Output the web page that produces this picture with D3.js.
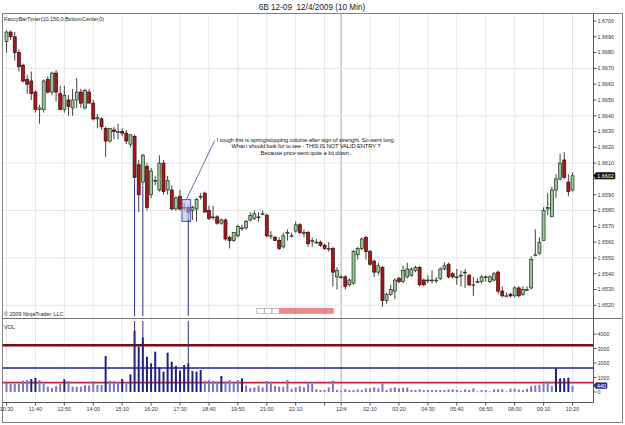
<!DOCTYPE html>
<html><head><meta charset="utf-8">
<script src="https://cdn.jsdelivr.net/npm/d3@7"></script>
<style>
body{margin:0;background:#fff}
svg{display:block}
text{font-family:"Liberation Sans",Arial,Helvetica,sans-serif}
</style>
</head><body>
<svg id="c" width="625" height="425"></svg>
<script>
// ---------------- DATA ----------------
const title = "6B 12-09\u00A0 12/4/2009 (10 Min)";
const openP = [1.6687,1.6693,1.6690,1.6680,1.6672,1.6663,1.6662,1.6655,1.6644,1.6644,1.6663,1.6655,1.6667,1.6654,1.6644,1.6650,1.6645,1.6650,1.6655,1.6645,1.6655,1.6648,1.6638,1.6638,1.6632,1.6624,1.6631,1.6630,1.6630,1.6629,1.6622,1.6627,1.6609,1.6598,1.6608,1.6590,1.6599,1.6593,1.6610,1.6593,1.6593,1.6581,1.6589,1.6582,1.6582,1.6580,1.6581,1.6589,1.6591,1.6580,1.6576,1.6576,1.6572,1.6574,1.6563,1.6561,1.6564,1.6569,1.6569,1.6574,1.6575,1.6576,1.6578,1.6577,1.6564,1.6563,1.6561,1.6557,1.6566,1.6564,1.6567,1.6571,1.6566,1.6566,1.6561,1.6560,1.6560,1.6558,1.6556,1.6556,1.6538,1.6538,1.6538,1.6533,1.6534,1.6552,1.6556,1.6563,1.6554,1.6548,1.6541,1.6544,1.6523,1.6527,1.6529,1.6537,1.6535,1.6538,1.6539,1.6542,1.6544,1.6536,1.6536,1.6536,1.6536,1.6537,1.6543,1.6546,1.6540,1.6538,1.6539,1.6541,1.6539,1.6533,1.6535,1.6535,1.6538,1.6535,1.6536,1.6541,1.6529,1.6526,1.6527,1.6526,1.6531,1.6527,1.6530,1.6531,1.6552,1.6553,1.6561,1.6581,1.6576,1.6593,1.6600,1.6612,1.6598,1.6593];
const highP = [1.6694,1.6694,1.6693,1.6682,1.6673,1.6666,1.6668,1.6656,1.6647,1.6663,1.6665,1.6668,1.6669,1.6659,1.6659,1.6653,1.6657,1.6664,1.6657,1.6657,1.6657,1.6650,1.6641,1.6639,1.6633,1.6632,1.6633,1.6635,1.6632,1.6631,1.6628,1.6628,1.6612,1.6616,1.6610,1.6607,1.6602,1.6615,1.6612,1.6602,1.6596,1.6589,1.6593,1.6585,1.6583,1.6583,1.6588,1.6591,1.6592,1.6583,1.6583,1.6577,1.6575,1.6575,1.6564,1.6566,1.6571,1.6571,1.6574,1.6579,1.6580,1.6579,1.6580,1.6578,1.6567,1.6564,1.6563,1.6566,1.6568,1.6566,1.6573,1.6572,1.6568,1.6567,1.6563,1.6562,1.6561,1.6559,1.6560,1.6557,1.6544,1.6539,1.6539,1.6537,1.6555,1.6557,1.6563,1.6564,1.6555,1.6549,1.6547,1.6545,1.6528,1.6533,1.6537,1.6538,1.6545,1.6547,1.6544,1.6545,1.6545,1.6537,1.6539,1.6542,1.6538,1.6544,1.6547,1.6547,1.6541,1.6543,1.6542,1.6543,1.6540,1.6538,1.6537,1.6539,1.6539,1.6539,1.6541,1.6542,1.6532,1.6528,1.6528,1.6532,1.6532,1.6532,1.6532,1.6551,1.6568,1.6563,1.6582,1.6591,1.6595,1.6603,1.6616,1.6617,1.6603,1.6604];
const lowP = [1.6680,1.6688,1.6675,1.6668,1.6661,1.6654,1.6650,1.6642,1.6635,1.6642,1.6654,1.6653,1.6649,1.6644,1.6642,1.6640,1.6640,1.6645,1.6645,1.6644,1.6648,1.6637,1.6632,1.6631,1.6614,1.6623,1.6625,1.6625,1.6627,1.6622,1.6620,1.6600,1.6579,1.6596,1.6580,1.6588,1.6596,1.6592,1.6590,1.6590,1.6580,1.6580,1.6580,1.6580,1.6575,1.6574,1.6573,1.6587,1.6579,1.6574,1.6574,1.6571,1.6571,1.6561,1.6556,1.6560,1.6563,1.6567,1.6568,1.6573,1.6574,1.6573,1.6577,1.6563,1.6562,1.6561,1.6555,1.6556,1.6561,1.6563,1.6566,1.6565,1.6563,1.6557,1.6557,1.6559,1.6557,1.6555,1.6554,1.6532,1.6530,1.6537,1.6530,1.6532,1.6533,1.6549,1.6555,1.6549,1.6545,1.6538,1.6539,1.6519,1.6521,1.6526,1.6524,1.6534,1.6534,1.6537,1.6538,1.6541,1.6532,1.6532,1.6534,1.6534,1.6534,1.6536,1.6542,1.6537,1.6537,1.6533,1.6532,1.6531,1.6532,1.6526,1.6534,1.6534,1.6535,1.6534,1.6535,1.6527,1.6525,1.6525,1.6525,1.6525,1.6525,1.6526,1.6529,1.6530,1.6551,1.6552,1.6561,1.6577,1.6576,1.6588,1.6599,1.6600,1.6589,1.6592];
const closeP = [1.6693,1.6690,1.6680,1.6671,1.6662,1.6660,1.6654,1.6644,1.6645,1.6662,1.6655,1.6667,1.6655,1.6644,1.6653,1.6646,1.6650,1.6655,1.6648,1.6656,1.6648,1.6638,1.6639,1.6633,1.6624,1.6632,1.6630,1.6630,1.6629,1.6624,1.6628,1.6601,1.6590,1.6615,1.6582,1.6605,1.6599,1.6610,1.6592,1.6599,1.6581,1.6588,1.6581,1.6582,1.6579,1.6582,1.6587,1.6589,1.6579,1.6575,1.6576,1.6572,1.6574,1.6562,1.6561,1.6566,1.6570,1.6569,1.6573,1.6577,1.6578,1.6576,1.6578,1.6564,1.6564,1.6561,1.6556,1.6564,1.6566,1.6564,1.6571,1.6566,1.6566,1.6559,1.6561,1.6560,1.6558,1.6556,1.6556,1.6541,1.6542,1.6538,1.6532,1.6536,1.6554,1.6556,1.6562,1.6554,1.6546,1.6541,1.6545,1.6523,1.6527,1.6530,1.6536,1.6535,1.6542,1.6543,1.6543,1.6544,1.6533,1.6533,1.6536,1.6536,1.6536,1.6543,1.6545,1.6538,1.6538,1.6538,1.6539,1.6541,1.6533,1.6533,1.6535,1.6538,1.6538,1.6538,1.6540,1.6529,1.6526,1.6526,1.6526,1.6531,1.6526,1.6530,1.6530,1.6549,1.6552,1.6560,1.6580,1.6582,1.6593,1.6600,1.6610,1.6601,1.6592,1.6602];
const volume = [644,552,552,552,782,828,897,966,828,552,368,276,414,552,874,759,368,368,368,483,460,759,483,483,2483,782,759,667,897,598,1218,4230,3127,3770,2437,1977,2782,1701,1402,2713,2092,1793,1471,1862,1977,1448,1402,1517,782,828,782,736,1103,759,828,644,828,943,460,276,322,437,322,759,713,414,368,368,828,230,322,414,322,644,713,184,138,138,322,782,138,60,207,138,138,184,138,253,253,322,253,598,138,253,322,253,299,299,138,138,184,138,138,138,138,138,138,184,184,138,69,184,138,253,46,138,138,46,184,184,184,46,230,230,184,138,230,414,460,506,598,736,414,1632,943,943,989,440];
const tickIndex = [0,7,14,21,28,35,42,49,56,63,70,77,81,88,95,102,109,116,123,130,137];
const tickLabel = ["10:30","11:40","12:50","14:00","15:10","16:20","17:30","18:40","19:50","21:00","22:10","","12/4","02:10","03:20","04:30","05:40","06:50","08:00","09:10","10:20"];
const dateTick = "12/4";
const priceTicks = [1.6700,1.6690,1.6680,1.6670,1.6660,1.6650,1.6640,1.6630,1.6620,1.6610,1.6600,1.6590,1.6580,1.6570,1.6560,1.6550,1.6540,1.6530,1.6520];
const priceGrid = [1.6670,1.6640,1.6610,1.6580,1.6550,1.6520];
const volTicks = [0,1000,2000,3000,4000];
const volLevels = [3220,1655,644];
const volLevelColors = ["#7a0c0c","#1c1c8c","#c8203c"];
const volLevelWidths = [2.6,1.6,1.6];
const markedBars = [31,33,44];
const boxBars = [43,44];
const noteLines = ["I tough this is spring/stopping volume after sign of strenght. So went long.",
                   "What i should look for to see - THIS IS NOT VALID ENTRY ?",
                   "Because price went quite a lot down.."];
const noteCenter = [72.5, 1.66236];   // bar index, price of first baseline
const noteAnchor = [50.4, 1.66244];   // end of pointer line
const timerCells = 10, timerDone = 3;
const lastPrice = 1.6602, lastVol = 440;

// ---------------- LAYOUT ----------------
const svg = d3.select("#c");
const L = 2.5, R = 593.5, FR = 622.5, T = 13.5, SEP = 318.5, XA = 402.5, B = 422.5;
const x = d3.scaleLinear().domain([0, 137]).range([6.5, 572.5]);
const y = d3.scaleLinear().domain([1.652, 1.670]).range([305.3, 21]);
const vy = d3.scaleLinear().domain([0, 4000]).range([392, 334]);
const font = 5.4;

svg.append("rect").attr("width",625).attr("height",425).attr("fill","#fff");

// vertical gridlines
tickIndex.forEach((ti,k)=>{
  const xx = x(ti);
  svg.append("line").attr("x1",xx).attr("x2",xx).attr("y1",T).attr("y2",XA)
    .attr("stroke", tickLabel[k]===dateTick ? "#a8a8a8" : "#e6e6e6").attr("stroke-width",1);
});
// horizontal price gridlines
priceGrid.forEach(p=>{
  svg.append("line").attr("x1",L).attr("x2",R).attr("y1",y(p)).attr("y2",y(p))
    .attr("stroke","#e6e6e6").attr("stroke-width",1);
});

// frame & separators
svg.append("rect").attr("x",L).attr("y",T).attr("width",FR-L).attr("height",B-T)
  .attr("fill","none").attr("stroke","#808080");
svg.append("line").attr("x1",L).attr("x2",FR).attr("y1",SEP).attr("y2",SEP).attr("stroke","#707070");
svg.append("line").attr("x1",R).attr("x2",R).attr("y1",T).attr("y2",XA).attr("stroke","#555");
svg.append("line").attr("x1",L).attr("x2",R).attr("y1",XA).attr("y2",XA).attr("stroke","#555");

// title & labels
svg.append("text").attr("x",312).attr("y",10).attr("text-anchor","middle")
  .attr("font-size",8.2).attr("fill","#222").text(title);
svg.append("text").attr("x",4).attr("y",20.5).attr("font-size",font).attr("fill","#222")
  .text("FancyBarTimer(10,150,0,BottomCenter,0)");
svg.append("text").attr("x",4).attr("y",315.5).attr("font-size",font).attr("fill","#222")
  .text("\u00A9 2009 NinjaTrader, LLC");
svg.append("text").attr("x",4).attr("y",328.5).attr("font-size",font).attr("fill","#222").text("VOL");

// price axis ticks (labels hidden under the last-price marker)
priceTicks.forEach(p=>{
  svg.append("line").attr("x1",R).attr("x2",R+3).attr("y1",y(p)).attr("y2",y(p)).attr("stroke","#555");
  if (Math.abs(y(p)-y(lastPrice)) > 6)
    svg.append("text").attr("x",R+4).attr("y",y(p)+1.9).attr("font-size",font).attr("fill","#333")
      .text(p.toFixed(4));
});
// volume axis ticks
volTicks.forEach(v=>{
  svg.append("line").attr("x1",R).attr("x2",R+3).attr("y1",vy(v)).attr("y2",vy(v)).attr("stroke","#555");
  svg.append("text").attr("x",R+4).attr("y",vy(v)+2.4).attr("font-size",font).attr("fill","#333").text(v);
});
// time axis
tickIndex.forEach((ti,k)=>{
  svg.append("line").attr("x1",x(ti)).attr("x2",x(ti)).attr("y1",XA).attr("y2",XA+3).attr("stroke","#555");
  if (tickLabel[k]) svg.append("text").attr("x",x(ti)).attr("y",XA+8.5).attr("text-anchor","middle")
    .attr("font-size",font).attr("fill","#333").text(tickLabel[k]);
});

// clip for plot
svg.append("clipPath").attr("id","pc").append("rect").attr("x",L).attr("y",T).attr("width",R-L).attr("height",XA-T);
const g = svg.append("g").attr("clip-path","url(#pc)");

// volume level lines
volLevels.forEach((v,k)=>{
  g.append("line").attr("x1",L).attr("x2",R).attr("y1",vy(v)).attr("y2",vy(v))
    .attr("stroke",volLevelColors[k]).attr("stroke-width",volLevelWidths[k]);
});

// volume bars
g.selectAll(".vb").data(volume).enter().append("rect")
  .attr("x",(d,i)=>x(i)-1).attr("width",2)
  .attr("y",d=>vy(d)).attr("height",d=>vy(0)-vy(d))
  .attr("fill",d=> d>850 ? "#22227e" : "#7878c4");

// candles
const idx = d3.range(openP.length);
g.selectAll(".wk").data(idx).enter().append("line")
  .attr("x1",i=>x(i)).attr("x2",i=>x(i)).attr("y1",i=>y(highP[i])).attr("y2",i=>y(lowP[i]))
  .attr("stroke","#2a2a2a").attr("stroke-width",0.9);
g.selectAll(".bd").data(idx).enter().append("rect")
  .attr("x",i=>x(i)-1.5).attr("width",3)
  .attr("y",i=>y(Math.max(openP[i],closeP[i])))
  .attr("height",i=>Math.max(0.8, Math.abs(y(openP[i])-y(closeP[i]))))
  .attr("fill",i=> closeP[i]>openP[i] ? "#98c898" : closeP[i]<openP[i] ? "#a81818" : "#ffffff")
  .attr("stroke",i=> closeP[i]<openP[i] ? "#3a0808" : "#1e2e1e").attr("stroke-width",0.7);

// highlight box
const bx0 = x(boxBars[0])-2.2, bx1 = x(boxBars[1])+2.4;
const bTop = y(d3.max(boxBars,i=>highP[i]))-3, bBot = y(d3.min(boxBars,i=>lowP[i]))+3;
g.append("rect").attr("x",bx0).attr("y",bTop).attr("width",bx1-bx0).attr("height",bBot-bTop)
  .attr("fill","#aab4f0").attr("fill-opacity",0.55).attr("stroke","#3c46b4").attr("stroke-width",0.9);

// marked bars: vertical lines price -> volume
markedBars.forEach(i=>{
  g.append("line").attr("x1",x(i)).attr("x2",x(i)).attr("y1",y(lowP[i])+0.5).attr("y2",SEP-2.5)
    .attr("stroke","#2e2e8c").attr("stroke-width",1);
  g.append("line").attr("x1",x(i)).attr("x2",x(i)).attr("y1",SEP+2.5).attr("y2",vy(volume[i]))
    .attr("stroke","#2e2e8c").attr("stroke-width",1);
});

// annotation
g.append("line").attr("x1",(bx0+bx1)/2).attr("y1",bTop).attr("x2",x(noteAnchor[0])).attr("y2",y(noteAnchor[1]))
  .attr("stroke","#5a5aa8").attr("stroke-width",0.9);
noteLines.forEach((t,k)=>{
  g.append("text").attr("x",x(noteCenter[0])).attr("y",y(noteCenter[1])+k*6.8)
    .attr("text-anchor","middle").attr("font-size",5.9).attr("fill","#222")
    .attr("letter-spacing",-0.17).text(t);
});

// bar timer
const cw = 7.66, tx0 = 295 - timerCells*cw/2, ty = 308.3;
d3.range(timerCells).forEach(k=>{
  svg.append("rect").attr("x",tx0+k*cw).attr("y",ty).attr("width",cw).attr("height",5)
    .attr("fill", k<timerDone ? "#ffffff" : "#f08a8a")
    .attr("stroke", k<timerDone ? "#9a9a9a" : "#e07a7a").attr("stroke-width",0.6);
});

// last price / volume markers
function marker(yy, txt, fill, w, h){
  svg.append("path").attr("d",`M${R},${yy} L${R+2.5},${yy-h} L${R+2.5+w},${yy-h} Q${R+3.5+w},${yy-h} ${R+3.5+w},${yy-h+1} L${R+3.5+w},${yy+h-1} Q${R+3.5+w},${yy+h} ${R+2.5+w},${yy+h} L${R+2.5},${yy+h} Z`)
    .attr("fill",fill).attr("stroke","#111").attr("stroke-width",0.5);
  svg.append("text").attr("x",R+3+w/2).attr("y",yy+1.9).attr("text-anchor","middle")
    .attr("font-size",font).attr("fill","#fff").text(txt);
}
marker(y(lastPrice), lastPrice.toFixed(4), "#111", 18, 3.3);
marker(vy(lastVol), String(lastVol), "#2836a8", 10, 2.9);
</script>
</body></html>
